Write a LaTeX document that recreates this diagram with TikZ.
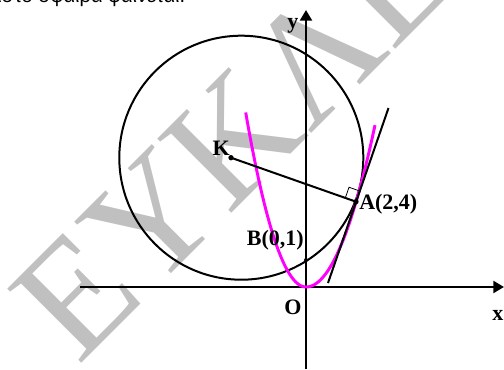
\documentclass[tikz,border=0pt]{standalone}
\usepackage{fontspec}
\setmainfont{Liberation Serif}
\newfontfamily\topfont{Liberation Sans}
\usetikzlibrary{arrows.meta,positioning,calc}
\definecolor{wmgray}{HTML}{C0C0C0}
\definecolor{parab}{HTML}{FF00FF}

\begin{document}
\begin{tikzpicture}[x=0.75pt,y=0.75pt,
  axis/.style={line width=1.7pt,-{Triangle[length=8pt,width=9pt]}},
  curve/.style={line width=1.5pt},
  lbl/.style={font=\fontsize{16.5}{18}\selectfont\bfseries,inner sep=0pt},
  dot/.style={circle,fill=black,inner sep=0pt,minimum size=4pt},
  rightmark/.style={line width=0.6pt}]

  \useasboundingbox (-306,-82) rectangle (198,287);

  % watermark and clipped line of text
  \node[font=\fontsize{120}{120}\selectfont,text=wmgray,rotate=45,anchor=base west,inner sep=0pt] (wm) at (-228,-80) {ΕΥΚΛΕΙΔΗΣ};
  \node[font=\topfont\fontsize{15}{18}\selectfont,anchor=base west,inner sep=0pt] (txt) at (-309,284.5) {ιστο σφαίρα φαίνεται.};

  % points
  \coordinate (O) at (0,0);
  \coordinate (C) at (-64.7,129.3);
  \coordinate (K) at (-75,129.3);
  \coordinate (A) at (50,85.3);
  \coordinate (B) at (0,27);
  \coordinate (t1) at (22,4);
  \coordinate (t2) at (82.5,179);

  % axes
  \coordinate (xl) at (-226,0);
  \coordinate (xr) at (198,0);
  \coordinate (yb) at (0,-82);
  \coordinate (yt) at (0,277);
  \draw[axis] (xl) -- (xr);
  \draw[axis] (yb) -- (yt);

  % circle, parabola, tangent
  \draw[curve] (C) circle[radius=122];
  \draw[parab,line width=2.2pt] plot[domain=-60.3:0,samples=40] (\x,{0.048*\x*\x})
    -- plot[domain=0:69,samples=40] (\x,{0.034*\x*\x});
  \draw[curve] (t1) -- (t2);
  \draw[curve] (K) -- (A);

  % right angle at A
  \coordinate (r1) at ($(A)!8.5pt!(K)$);
  \coordinate (r3) at ($(A)!8.5pt!(t2)$);
  \draw[rightmark] (r1) -- ($(r1)+(r3)-(A)$) -- (r3);

  \node[dot] (Kd) at (K) {};
  \node[dot] (Ad) at (A) {};
  \node[dot,minimum size=3pt] (Bd) at (B) {};

  % labels
  \node[lbl,anchor=base east] (Klbl) at (-76,132) {K};
  \node[lbl,anchor=base west] (Albl) at (53,78) {A(2,4)};
  \node[lbl,anchor=base east] (Blbl) at (-2,42) {B(0,1)};
  \node[lbl,anchor=base] (Olbl) at (-13,-27) {O};
  \node[lbl,anchor=base] (xlbl) at (192,-33) {x};
  \node[lbl,anchor=base] (ylbl) at (-13,259) {y};

\end{tikzpicture}
\end{document}
